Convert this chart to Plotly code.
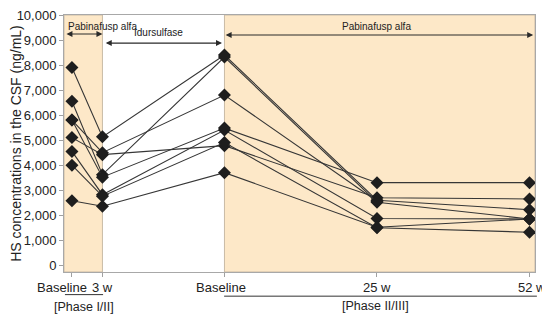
import plotly.graph_objects as go

# x positions (numeric) of the five time points
timepoints = ["Baseline", "3 w", "Baseline", "25 w", "52 w"]
x_pos = [0, 1, 5, 10, 15]

# HS concentrations (ng/mL) per time point, one entry per patient
baseline_p12 = [7900, 6550, 5800, 5100, 4550, 4000, 2580, 5800]
week3_p12    = [5130, 3620, 3520, 4420, 2820, 2760, 2360, 4500]
baseline_p23 = [8400, 8320, 5480, 4780, 5400, 4900, 3700, 6800]
week25_p23   = [2600, 2520, 3300, 2700, 1870, 1500, 1520, 2560]
week52_p23   = [2220, 1850, 3300, 2650, 1850, 1320, 1850, None]

y_ticks = list(range(0, 10001, 1000))

peach = "#FDE8C8"
dark = "#2A2A2A"
font = "Arial, Liberation Sans, sans-serif"

fig = go.Figure()
for i in range(len(baseline_p12)):
    ys = [baseline_p12[i], week3_p12[i], baseline_p23[i], week25_p23[i], week52_p23[i]]
    fig.add_trace(go.Scatter(
        x=x_pos, y=ys, mode="lines+markers",
        line=dict(color="#363636", width=1.1),
        marker=dict(symbol="diamond", size=10, color="#1E1E1E"),
        showlegend=False, hoverinfo="x+y"))

XMIN, XMAX = -0.26, 15.18
shapes = [
    dict(type="rect", xref="x", yref="paper", x0=XMIN, x1=x_pos[1], y0=0, y1=1,
         fillcolor=peach, line=dict(color="#C9BBA6", width=1), layer="below"),
    dict(type="rect", xref="x", yref="paper", x0=x_pos[2], x1=XMAX, y0=0, y1=1,
         fillcolor=peach, line=dict(color="#C9BBA6", width=1), layer="below"),
    # underlines under x labels
    dict(type="line", xref="paper", yref="paper", x0=0.002, x1=0.083, y0=-0.088, y1=-0.088,
         line=dict(color="#333", width=1)),
    dict(type="line", xref="paper", yref="paper", x0=0.340, x1=1.004, y0=-0.094, y1=-0.094,
         line=dict(color="#333", width=1)),
]

annotations = []
label_x = [-0.004, 0.081, 0.333, 0.665, 0.994]
for lx, t in zip(label_x, timepoints):
    annotations.append(dict(x=lx, y=-0.062, xref="paper", yref="paper", text=t,
                            showarrow=False, font=dict(size=13, color="#222", family=font),
                            xanchor="center", yanchor="middle"))
annotations += [
    dict(x=0.042, y=-0.137, xref="paper", yref="paper", text="[Phase I/II]", showarrow=False,
         xanchor="center", yanchor="middle", font=dict(size=12.5, color="#222", family=font)),
    dict(x=0.662, y=-0.133, xref="paper", yref="paper", text="[Phase II/III]", showarrow=False,
         xanchor="center", yanchor="middle", font=dict(size=12.5, color="#222", family=font)),
    dict(x=-0.18, y=9560, xref="x", yref="y", text="Pabinafusp alfa", showarrow=False,
         xanchor="left", yanchor="middle", font=dict(size=10, color="#222", family=font)),
    dict(x=2.85, y=9300, xref="x", yref="y", text="Idursulfase", showarrow=False,
         xanchor="center", yanchor="middle", font=dict(size=10, color="#222", family=font)),
    dict(x=10.0, y=9560, xref="x", yref="y", text="Pabinafusp alfa", showarrow=False,
         xanchor="center", yanchor="middle", font=dict(size=10, color="#222", family=font)),
]
# double headed arrows
for x0, x1, yv in [(-0.23, 1.0, 9240), (1.06, 4.92, 8880), (4.99, 15.12, 9200)]:
    annotations.append(dict(x=x1, y=yv, ax=x0, ay=yv, xref="x", yref="y", axref="x", ayref="y",
                            text="", showarrow=True, arrowhead=2, startarrowhead=2,
                            arrowside="end+start", arrowsize=1, arrowwidth=1.2,
                            arrowcolor=dark, standoff=0, startstandoff=0))

# the page adds an 8px body margin, so the figure is drawn 8px smaller
fig.update_layout(
    width=542, height=314,
    margin=dict(l=56, r=15, t=7, b=50, autoexpand=False),
    paper_bgcolor="white", plot_bgcolor="white",
    shapes=shapes, annotations=annotations,
    font=dict(family=font, size=13, color="#222"),
    xaxis=dict(range=[XMIN, XMAX], showgrid=False, zeroline=False, automargin=False,
               tickvals=x_pos, ticktext=["" for _ in x_pos], ticks="outside", ticklen=4,
               tickcolor="#A0A0A0", showline=True, linecolor="#A8A8A8", mirror=True),
    yaxis=dict(range=[-270, 10000], tickvals=y_ticks, tickformat=",", showgrid=False,
               zeroline=False, ticks="outside", ticklen=4, tickcolor="#A0A0A0",
               showline=True, linecolor="#A8A8A8", mirror=True, automargin=False,
               ticklabeloverflow="allow",
               tickfont=dict(size=13, color="#222"),
               title=dict(text="HS concentrations in the CSF (ng/mL)",
                          font=dict(size=14, color="#222"), standoff=2)),
)

fig.write_html("out.html")
